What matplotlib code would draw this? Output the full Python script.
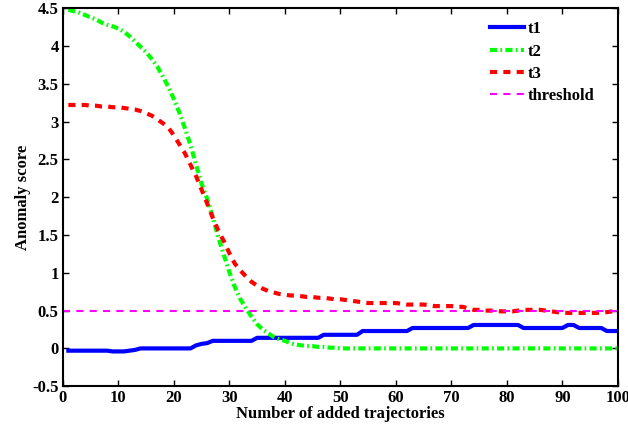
import numpy as np
import matplotlib.pyplot as plt
from matplotlib.ticker import FuncFormatter

plt.rcParams['font.family'] = ['Liberation Serif', 'DejaVu Serif']
plt.rcParams['font.weight'] = 'bold'

x = np.arange(1, 101)

t1 = ([-0.03] * 8 + [-0.04] * 3 + [-0.03, -0.02] + [0.0] * 10 +
      [0.04, 0.06, 0.07] + [0.10] * 8 + [0.14] * 12 + [0.18] * 7 +
      [0.23] * 9 + [0.27] * 11 + [0.31] * 9 + [0.27] * 8 + [0.31] * 2 +
      [0.27] * 5 + [0.23] * 3)

t2 = [4.48, 4.46, 4.44, 4.41, 4.38, 4.35, 4.31, 4.28, 4.26, 4.23,
      4.19, 4.13, 4.06, 3.99, 3.92, 3.83, 3.73, 3.60, 3.46, 3.30,
      3.12, 2.91, 2.69, 2.43, 2.18, 1.98, 1.74, 1.47, 1.24, 1.01,
      0.81, 0.65, 0.53, 0.42, 0.32, 0.25, 0.20, 0.15, 0.12, 0.10,
      0.07, 0.05, 0.04, 0.03, 0.03, 0.02, 0.02, 0.01, 0.01, 0.00] + [0.0] * 50

t3 = [3.22, 3.22, 3.22, 3.22, 3.21, 3.21, 3.20, 3.20, 3.19, 3.19,
      3.18, 3.17, 3.16, 3.14, 3.11, 3.08, 3.03, 2.98, 2.92, 2.82,
      2.70, 2.58, 2.43, 2.28, 2.10, 1.92, 1.73, 1.56, 1.42, 1.26,
      1.12, 1.03, 0.95, 0.88, 0.83, 0.79, 0.76, 0.74, 0.72, 0.71,
      0.70, 0.70, 0.69, 0.68, 0.68, 0.67, 0.67, 0.66, 0.65, 0.65,
      0.64, 0.63, 0.62, 0.61, 0.60, 0.60, 0.60, 0.60, 0.60, 0.60,
      0.59, 0.58, 0.58, 0.58, 0.58, 0.57, 0.56, 0.56, 0.56, 0.56,
      0.55, 0.55, 0.53, 0.51, 0.51, 0.50, 0.50, 0.50, 0.49, 0.49,
      0.49, 0.50, 0.51, 0.51, 0.51, 0.51, 0.50, 0.49, 0.48, 0.47,
      0.47, 0.47, 0.47, 0.47, 0.47, 0.47, 0.47, 0.48, 0.49, 0.49]

threshold = 0.5

fig = plt.figure(figsize=(6.28, 4.32), dpi=100)
ax = fig.add_axes([0.100, 0.106, 0.884, 0.875])

ax.plot(x, t1, color='#0000ff', lw=3, label='t1')
ax.plot(x, t2, color='#00ff00', lw=3, dashes=(1.7, 0.8, 0.4, 0.8), label='t2')
ax.plot(x, t3, color='#ff0000', lw=3, dashes=(1.7, 1.5), label='t3')
ax.axhline(threshold, color='#ff00ff', lw=1.5, dashes=(3.4, 3), label='threshold')

ax.set_xlim(0, 100)
ax.set_ylim(-0.5, 4.5)
ax.set_xticks(np.arange(0, 101, 10))
ax.set_yticks(np.arange(-0.5, 4.51, 0.5))
ax.yaxis.set_major_formatter(FuncFormatter(lambda v, p: '%g' % v if abs(v) > 1e-9 else '0'))

ax.tick_params(direction='in', top=True, right=True, length=4, width=1, labelsize=12, pad=3)
for s in ax.spines.values():
    s.set_linewidth(1.5)

ax.set_xlabel('Number of added trajectories', fontsize=12, fontweight='bold', labelpad=0)
ax.set_ylabel('Anomaly score', fontsize=12, fontweight='bold', labelpad=1)

ax.legend(loc='upper right', frameon=False, fontsize=12, handlelength=2.0,
          handletextpad=0.25, labelspacing=0.38, borderaxespad=0.5,
          bbox_to_anchor=(0.985, 1.005))

fig.savefig('out.png', dpi=100)
